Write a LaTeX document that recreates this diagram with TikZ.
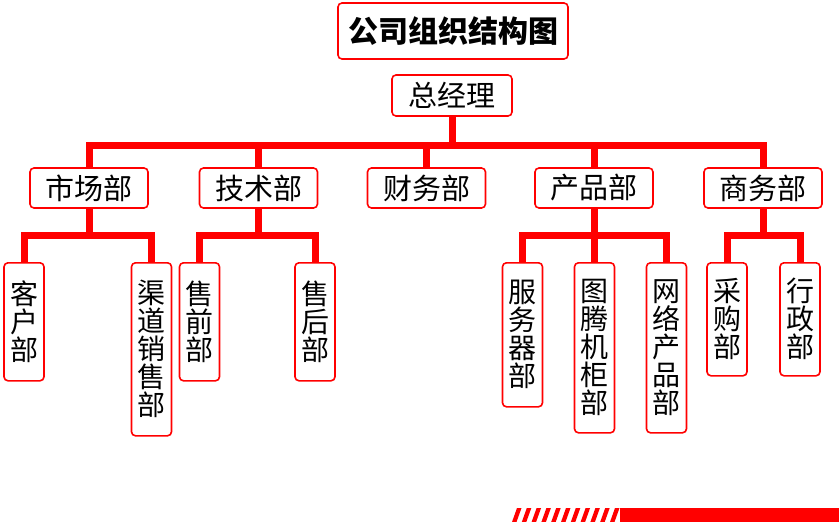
\documentclass[tikz,border=0pt]{standalone}
\usepackage{fontspec}
\setmainfont{Noto Sans CJK SC}
\begin{document}
\begin{tikzpicture}[x=1pt, y=-1pt,
    box/.style={draw=red, line width=1.6pt, fill=white, rounded corners=4pt, inner sep=1pt, align=center},
    dept/.style={box, minimum width=118pt, minimum height=40pt, font=\fontsize{29}{30}\selectfont},
    unit/.style={box, anchor=north, minimum width=40pt, font=\fontsize{28}{28}\selectfont},
    link/.style={draw=red, line width=7pt, line join=miter}]
    \useasboundingbox (0,0) rectangle (839,522);
    \node[box, minimum width=230pt, minimum height=56pt, font=\fontsize{30}{32}\selectfont\bfseries] (title) at (453,31) {公司组织结构图};
    \node[box, minimum width=120pt, minimum height=41pt, font=\fontsize{29}{30}\selectfont] (gm) at (452,95.5) {总经理};
    \node[dept] (mkt) at (89,188) {市场部};
    \node[dept] (tech) at (258.5,188) {技术部};
    \node[dept] (fin) at (426.5,188) {财务部};
    \node[dept] (prod) at (594,188) {产品部};
    \node[dept] (biz) at (763,188) {商务部};
    \node[unit, minimum height=118pt] (cust) at (24,262) {客\\户\\部};
    \node[unit, minimum height=173pt] (chan) at (151.5,262) {渠\\道\\销\\售\\部};
    \node[unit, minimum height=118pt] (pre) at (199.5,262) {售\\前\\部};
    \node[unit, minimum height=118pt] (post) at (315,262) {售\\后\\部};
    \node[unit, minimum height=144pt] (srv) at (522.5,262) {服\\务\\器\\部};
    \node[unit, minimum height=170pt] (cab) at (594.5,262) {图\\腾\\机\\柜\\部};
    \node[unit, minimum height=170pt] (net) at (666.5,262) {网\\络\\产\\品\\部};
    \node[unit, minimum height=113pt] (buy) at (727,262) {采\\购\\部};
    \node[unit, minimum height=113pt] (adm) at (800,262) {行\\政\\部};
    % top level bus
    \coordinate (bus) at (455,145);
    \coordinate (sub) at (455,235);
    \draw[link] (gm.south) -- (gm.south |- bus);
    \draw[link] (mkt.north) -- (mkt.north |- bus) -- (biz.north |- bus) -- (biz.north);
    \foreach \d in {tech,fin,prod}
        \draw[link] (\d.north) -- (\d.north |- bus);
    % second level
    \draw[link] (mkt.south) -- (mkt.south |- sub);
    \draw[link] (cust.north) -- (cust.north |- sub) -- (chan.north |- sub) -- (chan.north);
    \draw[link] (tech.south) -- (tech.south |- sub);
    \draw[link] (pre.north) -- (pre.north |- sub) -- (post.north |- sub) -- (post.north);
    \draw[link] (prod.south) -- (prod.south |- sub);
    \draw[link] (srv.north) -- (srv.north |- sub) -- (net.north |- sub) -- (net.north);
    \draw[link] (cab.north) -- (cab.north |- sub);
    \draw[link] (biz.south) -- (biz.south |- sub);
    \draw[link] (buy.north) -- (buy.north |- sub) -- (adm.north |- sub) -- (adm.north);
    % bottom strip
    \fill[red] (620,508) rectangle (839,522);
    \foreach \i in {0,...,10}
        \fill[red] ({512+\i*9.8},522) -- ++(4.5,0) -- ++(5,-14) -- ++(-4.5,0) -- cycle;
\end{tikzpicture}
\end{document}
